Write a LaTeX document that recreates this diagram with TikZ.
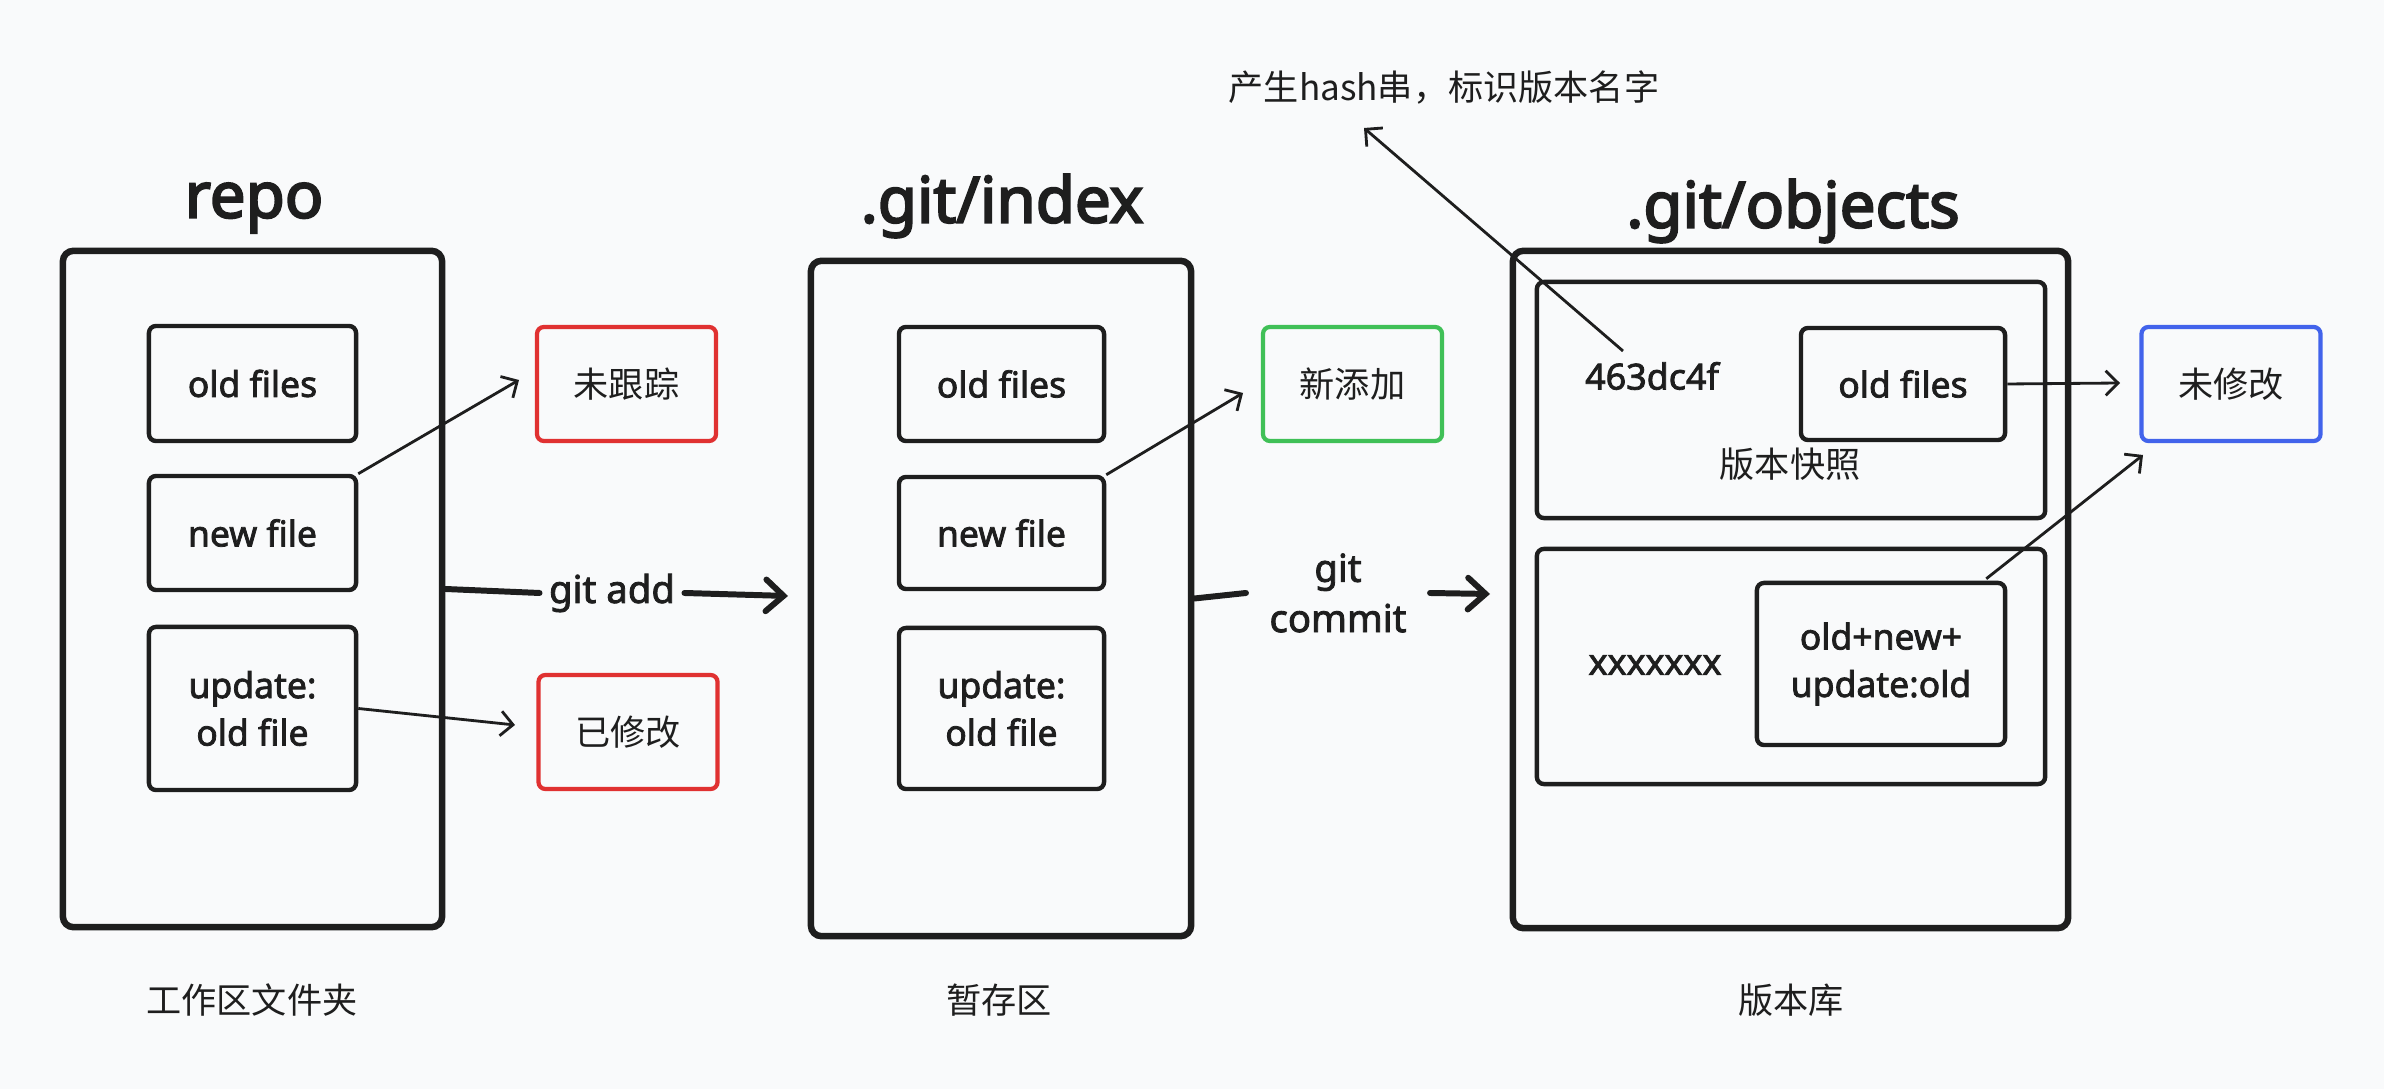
\documentclass[tikz,border=0pt]{standalone}
\usepackage{fontspec}
\setmainfont{Noto Sans}[FakeBold=2.2]
\newfontfamily\titlefont{Noto Sans}[FakeBold=3.2]
\newfontfamily\cjk{Noto Sans CJK SC}
\usetikzlibrary{arrows.meta,calc}
\definecolor{ink}{HTML}{1E1E1E}
\definecolor{bg}{HTML}{F9FAFB}
\definecolor{myred}{HTML}{E03131}
\definecolor{mygreen}{HTML}{40C057}
\definecolor{myblue}{HTML}{4263EB}
\begin{document}
\begin{tikzpicture}[x=0.01cm,y=-0.01cm,
  outerbox/.style={draw=ink, line width=1.85pt, rounded corners=3pt, inner sep=0pt},
  filebox/.style={draw=ink, line width=1.25pt, rounded corners=2pt, align=center, inner sep=0pt, text=ink, font=\fontsize{10.1}{13.5}\selectfont},
  tagbox/.style={line width=1.2pt, rounded corners=2pt, inner sep=0pt, text=ink, minimum width=1.79cm, minimum height=1.14cm, font=\cjk\fontsize{10}{12}\selectfont},
  titletext/.style={font=\titlefont\fontsize{18.1}{20}\selectfont, text=ink, inner sep=0pt},
  plaintext/.style={text=ink, align=center, font=\fontsize{10.2}{14}\selectfont},
  gittext/.style={text=ink, align=center, font=\fontsize{10.9}{14.3}\selectfont},
  cjktext/.style={text=ink, font=\cjk\fontsize{10}{12}\selectfont},
  thinarr/.style={draw=ink, line width=0.8pt, -{Straight Barb[length=3.5pt,width=7pt]}},
  thickline/.style={draw=ink, line width=1.7pt, line cap=round},
  thickarr/.style={thickline, -{Straight Barb[length=5pt,width=9pt,line cap=round]}}
]
\fill[bg] (0,0) rectangle (2384,1089);
\useasboundingbox (0,0) rectangle (2384,1089);

% ---------- repo ----------
\node[outerbox, minimum width=3.79cm, minimum height=6.76cm] (repo) at (252.5,589) {};
\node[titletext] (repot) at (254,208) {repo};
\node[filebox, minimum width=2.07cm, minimum height=1.15cm] (rold) at (252.5,383.5) {old files};
\node[filebox, minimum width=2.07cm, minimum height=1.14cm] (rnew) at (252.5,533) {new file};
\node[filebox, minimum width=2.07cm, minimum height=1.63cm] (rupd) at (252.5,708.5) {update:\\old file};
\node[tagbox, draw=myred] (untr) at (626.5,384) {未跟踪};
\node[tagbox, draw=myred] (modi) at (628,732) {已修改};
\coordinate (t1) at (519,380);
\coordinate (t2) at (515,725);
\draw[thinarr] (rnew.north east) -- (t1);
\draw[thinarr] (rupd.east) -- (t2);
\node[cjktext] (lab1) at (252,1000) {工作区文件夹};

% git add
\node[gittext, inner xsep=2.5pt] (gitadd) at (612,593) {git add};
\coordinate (t3) at (788,596);
\draw[thickline] (repo.east) -- (gitadd.west);
\draw[thickarr] (gitadd.east) -- (t3);

% ---------- index ----------
\node[outerbox, minimum width=3.80cm, minimum height=6.75cm] (index) at (1001,598.5) {};
\node[titletext] (indext) at (1002,206) {.git/index};
\node[filebox, minimum width=2.05cm, minimum height=1.14cm] (iold) at (1001.5,384) {old files};
\node[filebox, minimum width=2.05cm, minimum height=1.12cm] (inew) at (1001.5,533) {new file};
\node[filebox, minimum width=2.05cm, minimum height=1.61cm] (iupd) at (1001.5,708.5) {update:\\old file};
\node[tagbox, draw=mygreen] (added) at (1352.5,384) {新添加};
\coordinate (t4) at (1243,393);
\draw[thinarr] (inew.north east) -- (t4);
\node[cjktext] (lab2) at (999,1000) {暂存区};

% git commit
\node[gittext, inner xsep=6.5pt] (gitcommit) at (1338,593) {git\\commit};
\coordinate (t5) at (1490,594);
\draw[thickline] (index.east) -- (gitcommit.west);
\draw[thickarr] (gitcommit.east) -- (t5);

% ---------- objects ----------
\node[outerbox, minimum width=5.55cm, minimum height=6.77cm] (objects) at (1790.5,589.5) {};
\node[titletext] (objectst) at (1793,211) {.git/objects};
\node[filebox, minimum width=5.08cm, minimum height=2.36cm] (snap1) at (1791,400) {};
\node[filebox, minimum width=5.08cm, minimum height=2.35cm] (snap2) at (1791,666.5) {};
\node[filebox, minimum width=2.04cm, minimum height=1.12cm] (oold) at (1903,384) {old files};
\node[filebox, minimum width=2.48cm, minimum height=1.62cm] (oall) at (1881,664) {old+new+\\update:old};
\node[plaintext] (hash1) at (1652,376) {463dc4f};
\node[cjktext] (snaplab) at (1790,464) {版本快照};
\node[plaintext] (hash2) at (1655,665) {xxxxxxx};
\node[tagbox, draw=myblue] (unmod) at (2231,384) {未修改};
\coordinate (t6) at (2120,383);
\coordinate (t7) at (2143,455);
\draw[thinarr] (oold.east) -- (t6);
\draw[thinarr] ($(oall.north east)+(-21,-2)$) -- (t7);
\node[cjktext] (hashlab) at (1444,88) {产生hash串，标识版本名字};
\coordinate (h0) at (1623,351);
\coordinate (t8) at (1364,128);
\draw[thinarr] (h0) -- (t8);
\node[cjktext] (lab3) at (1791,1000) {版本库};
\end{tikzpicture}
\end{document}
